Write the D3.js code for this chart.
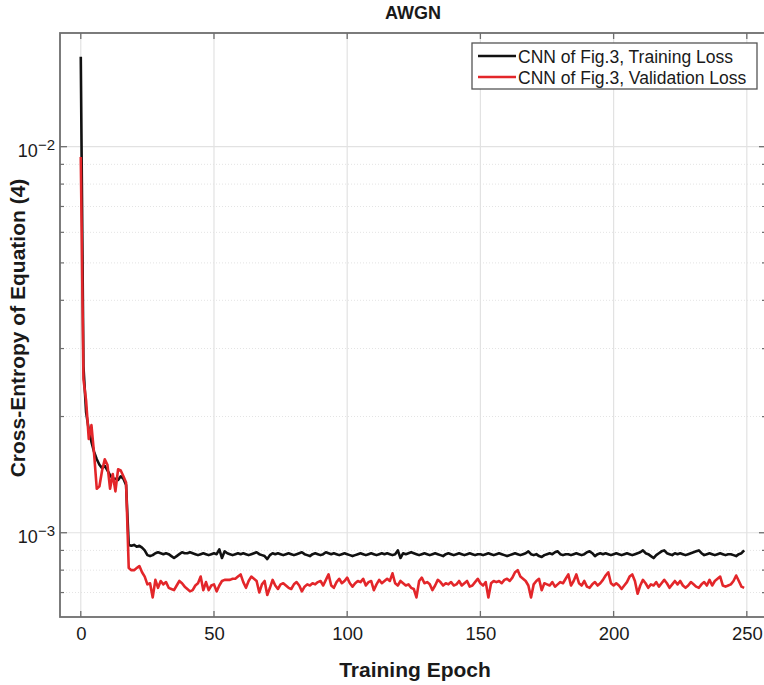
<!DOCTYPE html>
<html lang="en">
<head>
<meta charset="UTF-8">
<title>AWGN</title>
<script src="https://d3js.org/d3.v7.min.js"></script>
<style>
  body { margin: 0; background: #fff; }
  svg text { font-family: "Liberation Sans", Arial, Helvetica, sans-serif; fill: #1a1a1a; }
</style>
</head>
<body>
<div id="chart"></div>
<script>
// Loss per training epoch (index = epoch)
const trainLoss = [
  1.71e-2, 2.7e-3, 2.05e-3, 1.85e-3, 1.72e-3, 1.62e-3, 1.55e-3, 1.5e-3, 1.47e-3, 1.49e-3,
  1.45e-3, 1.41e-3, 1.38e-3, 1.38e-3, 1.37e-3, 1.4e-3, 1.38e-3, 1.33e-3,
  9.3e-4, 9.25e-4, 9.3e-4, 9.2e-4, 9.25e-4, 9.15e-4, 9.0e-4,
  8.75e-4, 8.7e-4, 8.75e-4, 8.85e-4, 8.9e-4, 8.85e-4, 8.8e-4, 8.85e-4, 8.8e-4, 8.7e-4, 8.6e-4, 8.7e-4, 8.8e-4, 8.9e-4, 8.85e-4, 8.85e-4, 8.9e-4, 8.85e-4, 8.8e-4, 8.75e-4, 8.8e-4, 8.85e-4, 8.8e-4, 8.75e-4, 8.8e-4,
  8.85e-4, 8.8e-4, 9.05e-4, 8.6e-4, 8.95e-4, 8.85e-4, 8.8e-4, 8.75e-4, 8.8e-4, 8.85e-4, 8.8e-4, 8.85e-4, 8.8e-4, 8.75e-4, 8.8e-4, 8.85e-4, 8.9e-4, 8.8e-4, 8.75e-4, 8.7e-4, 8.55e-4, 8.75e-4, 8.85e-4, 8.8e-4, 8.85e-4,
  8.8e-4, 8.75e-4, 8.8e-4, 8.85e-4, 8.8e-4, 8.75e-4, 8.8e-4, 8.85e-4, 8.9e-4, 8.8e-4, 8.75e-4, 8.7e-4, 8.8e-4, 8.85e-4, 8.8e-4, 8.75e-4, 8.8e-4, 8.9e-4, 8.85e-4, 8.8e-4, 8.85e-4, 8.8e-4, 8.75e-4, 8.8e-4, 8.85e-4,
  8.8e-4, 8.75e-4, 8.7e-4, 8.75e-4, 8.8e-4, 8.85e-4, 8.8e-4, 8.75e-4, 8.8e-4, 8.85e-4, 8.8e-4, 8.75e-4, 8.8e-4, 8.85e-4, 8.8e-4, 8.85e-4, 8.8e-4, 8.75e-4, 8.8e-4, 9.0e-4, 8.6e-4, 8.85e-4, 8.8e-4, 8.85e-4, 8.9e-4,
  8.85e-4, 8.8e-4, 8.75e-4, 8.8e-4, 8.85e-4, 8.8e-4, 8.75e-4, 8.8e-4, 8.85e-4, 8.8e-4, 8.75e-4, 8.7e-4, 8.8e-4, 8.85e-4, 8.8e-4, 8.75e-4, 8.8e-4, 8.85e-4, 8.8e-4, 8.75e-4, 8.8e-4, 8.85e-4, 8.8e-4, 8.75e-4, 8.8e-4,
  8.8e-4, 8.75e-4, 8.8e-4, 8.85e-4, 8.8e-4, 8.75e-4, 8.8e-4, 8.85e-4, 8.8e-4, 8.75e-4, 8.7e-4, 8.75e-4, 8.8e-4, 8.85e-4, 8.8e-4, 8.75e-4, 8.8e-4, 8.85e-4, 8.95e-4, 8.8e-4, 8.75e-4, 8.8e-4, 8.7e-4, 8.65e-4, 8.75e-4,
  8.8e-4, 8.85e-4, 8.8e-4, 8.9e-4, 8.95e-4, 8.8e-4, 8.75e-4, 8.8e-4, 8.8e-4, 8.75e-4, 8.8e-4, 8.85e-4, 8.8e-4, 8.75e-4, 8.8e-4, 8.9e-4, 8.95e-4, 8.85e-4, 8.7e-4, 8.8e-4, 8.85e-4, 8.8e-4, 8.85e-4, 8.8e-4, 8.75e-4,
  8.8e-4, 8.85e-4, 8.8e-4, 8.75e-4, 8.8e-4, 8.85e-4, 8.8e-4, 8.75e-4, 8.8e-4, 8.85e-4, 8.9e-4, 9.0e-4, 8.85e-4, 8.8e-4, 8.7e-4, 8.6e-4, 8.75e-4, 8.85e-4, 8.95e-4, 9.0e-4, 8.85e-4, 8.8e-4, 8.75e-4, 8.85e-4, 8.8e-4,
  8.85e-4, 8.8e-4, 8.75e-4, 8.8e-4, 8.85e-4, 8.9e-4, 8.95e-4, 9.0e-4, 8.85e-4, 8.75e-4, 8.8e-4, 8.85e-4, 8.8e-4, 8.75e-4, 8.8e-4, 8.85e-4, 8.8e-4, 8.75e-4, 8.8e-4, 8.8e-4, 8.75e-4, 8.7e-4, 8.8e-4, 8.85e-4, 9.0e-4
];
const valLoss = [
  9.4e-3, 2.5e-3, 2.2e-3, 1.75e-3, 1.9e-3, 1.6e-3, 1.3e-3, 1.32e-3, 1.45e-3, 1.55e-3,
  1.5e-3, 1.3e-3, 1.42e-3, 1.28e-3, 1.46e-3, 1.45e-3, 1.4e-3, 1.35e-3,
  8.1e-4, 8.0e-4, 8.0e-4, 8.1e-4, 8.2e-4, 7.9e-4, 7.7e-4,
  7.35e-4, 7.4e-4, 6.8e-4, 7.55e-4, 7.2e-4, 7.5e-4, 7.35e-4, 7.45e-4, 7.2e-4, 7.15e-4, 7.1e-4, 7.3e-4, 7.5e-4, 7.4e-4, 7.25e-4, 7.15e-4, 7.05e-4, 7.1e-4, 7.3e-4, 7.4e-4, 7.7e-4, 7.1e-4, 7.45e-4, 7.1e-4, 7.3e-4,
  7.35e-4, 7.05e-4, 7.3e-4, 7.5e-4, 7.55e-4, 7.55e-4, 7.55e-4, 7.6e-4, 7.6e-4, 7.7e-4, 7.8e-4, 7.45e-4, 7.2e-4, 7.5e-4, 7.7e-4, 7.6e-4, 7.5e-4, 7.0e-4, 7.35e-4, 7.5e-4, 6.9e-4, 7.2e-4, 7.55e-4, 7.3e-4, 7.15e-4,
  7.35e-4, 7.4e-4, 7.3e-4, 7.2e-4, 7.15e-4, 7.35e-4, 7.45e-4, 7.3e-4, 7.05e-4, 7.25e-4, 7.35e-4, 7.3e-4, 7.4e-4, 7.35e-4, 7.45e-4, 7.5e-4, 7.3e-4, 7.55e-4, 7.8e-4, 7.3e-4, 7.2e-4, 7.45e-4, 7.6e-4, 7.4e-4, 7.5e-4,
  7.65e-4, 7.4e-4, 7.25e-4, 7.4e-4, 7.5e-4, 7.45e-4, 7.6e-4, 7.3e-4, 7.45e-4, 7.5e-4, 7.1e-4, 7.35e-4, 7.55e-4, 7.4e-4, 7.5e-4, 7.6e-4, 7.5e-4, 7.85e-4, 7.4e-4, 7.3e-4, 7.5e-4, 7.4e-4, 7.3e-4, 7.35e-4, 7.2e-4,
  7.15e-4, 6.8e-4, 7.5e-4, 7.65e-4, 7.4e-4, 7.45e-4, 7.35e-4, 7.1e-4, 7.3e-4, 7.55e-4, 7.45e-4, 7.3e-4, 7.4e-4, 7.35e-4, 7.45e-4, 7.3e-4, 7.35e-4, 7.5e-4, 7.3e-4, 7.4e-4, 7.5e-4, 7.25e-4, 7.3e-4, 7.45e-4, 7.6e-4,
  7.4e-4, 7.3e-4, 7.45e-4, 6.8e-4, 7.4e-4, 7.5e-4, 7.45e-4, 7.5e-4, 7.4e-4, 7.55e-4, 7.6e-4, 7.5e-4, 7.65e-4, 7.9e-4, 8.0e-4, 7.7e-4, 7.6e-4, 7.5e-4, 7.3e-4, 6.8e-4, 7.35e-4, 7.5e-4, 7.6e-4, 7.1e-4, 7.4e-4,
  7.35e-4, 7.3e-4, 7.45e-4, 7.25e-4, 7.35e-4, 7.45e-4, 7.4e-4, 7.6e-4, 7.8e-4, 7.3e-4, 7.5e-4, 7.8e-4, 7.4e-4, 7.3e-4, 7.5e-4, 7.25e-4, 7.2e-4, 7.35e-4, 7.45e-4, 7.3e-4, 7.4e-4, 7.55e-4, 7.75e-4, 7.9e-4, 7.4e-4,
  7.3e-4, 7.4e-4, 7.3e-4, 7.15e-4, 7.3e-4, 7.45e-4, 7.7e-4, 7.8e-4, 7.5e-4, 6.95e-4, 7.3e-4, 7.55e-4, 7.4e-4, 7.2e-4, 7.35e-4, 7.3e-4, 7.45e-4, 7.25e-4, 7.4e-4, 7.55e-4, 7.4e-4, 7.2e-4, 7.35e-4, 7.5e-4, 7.35e-4,
  7.5e-4, 7.3e-4, 7.2e-4, 7.3e-4, 7.45e-4, 7.35e-4, 7.25e-4, 7.2e-4, 7.35e-4, 7.45e-4, 7.3e-4, 7.55e-4, 7.3e-4, 7.5e-4, 7.6e-4, 7.7e-4, 7.3e-4, 7.25e-4, 7.3e-4, 7.35e-4, 7.5e-4, 7.75e-4, 7.5e-4, 7.25e-4, 7.2e-4
];
const seriesNames = ["CNN of Fig.3, Training Loss", "CNN of Fig.3, Validation Loss"];
const seriesColors = ["#111111", "#e3262a"];
const xTicks = [0, 50, 100, 150, 200, 250];
const yMajorTicks = [1e-3, 1e-2];
const yMinorTicks = [7e-4, 8e-4, 9e-4, 2e-3, 3e-3, 4e-3, 5e-3, 6e-3, 7e-3, 8e-3, 9e-3];

const W = 764, H = 685;
const plot = { left: 60, right: 766, top: 33, bottom: 617 };

const svg = d3.select("#chart").append("svg")
    .attr("width", W)
    .attr("height", H);

const x = d3.scaleLinear().domain([-7.8, 257.2]).range([plot.left, plot.right]);
const y = d3.scaleLog().domain([6.05e-4, 1.97e-2]).range([plot.bottom, plot.top]);

// grid: minor (dotted) then major
svg.append("g").selectAll("line")
    .data(yMinorTicks).join("line")
    .attr("x1", plot.left).attr("x2", plot.right)
    .attr("y1", d => y(d)).attr("y2", d => y(d))
    .attr("stroke", "#e4e4e4").attr("stroke-width", 1)
    .attr("stroke-dasharray", "1,2");

svg.append("g").selectAll("line")
    .data(yMajorTicks).join("line")
    .attr("x1", plot.left).attr("x2", plot.right)
    .attr("y1", d => y(d)).attr("y2", d => y(d))
    .attr("stroke", "#e2e2e2").attr("stroke-width", 1.2);

svg.append("g").selectAll("line")
    .data(xTicks).join("line")
    .attr("x1", d => x(d)).attr("x2", d => x(d))
    .attr("y1", plot.top).attr("y2", plot.bottom)
    .attr("stroke", "#e2e2e2").attr("stroke-width", 1.2);

// lines
const line = d3.line()
    .x((d, i) => x(i))
    .y(d => y(d));

[trainLoss, valLoss].forEach((s, k) => {
  svg.append("path")
      .datum(s)
      .attr("fill", "none")
      .attr("stroke", seriesColors[k])
      .attr("stroke-width", 2.6)
      .attr("stroke-linejoin", "round")
      .attr("d", line);
});

// axes box
const axisColor = "#6e6e6e";
svg.append("rect")
    .attr("x", plot.left).attr("y", plot.top)
    .attr("width", plot.right - plot.left).attr("height", plot.bottom - plot.top)
    .attr("fill", "none").attr("stroke", axisColor).attr("stroke-width", 1.8);

// x ticks (inward, bottom and top)
const xAxis = svg.append("g").attr("transform", `translate(0,${plot.bottom})`)
    .call(d3.axisBottom(x).tickValues(xTicks).tickSize(0).tickPadding(10).tickFormat(d3.format("d")));
xAxis.select(".domain").remove();
xAxis.selectAll("text").style("font-size", "18.5px").attr("fill", "#1a1a1a");

xTicks.forEach(t => {
  svg.append("line").attr("x1", x(t)).attr("x2", x(t))
      .attr("y1", plot.bottom).attr("y2", plot.bottom - 6)
      .attr("stroke", axisColor).attr("stroke-width", 1.3);
  svg.append("line").attr("x1", x(t)).attr("x2", x(t))
      .attr("y1", plot.top).attr("y2", plot.top + 6)
      .attr("stroke", axisColor).attr("stroke-width", 1.3);
});

// y ticks (inward, left and right)
yMajorTicks.forEach(t => {
  svg.append("line").attr("x1", plot.left).attr("x2", plot.left + 7)
      .attr("y1", y(t)).attr("y2", y(t)).attr("stroke", axisColor).attr("stroke-width", 1.3);
  svg.append("line").attr("x1", plot.right).attr("x2", plot.right - 7)
      .attr("y1", y(t)).attr("y2", y(t)).attr("stroke", axisColor).attr("stroke-width", 1.3);
});
yMinorTicks.forEach(t => {
  svg.append("line").attr("x1", plot.left).attr("x2", plot.left + 4)
      .attr("y1", y(t)).attr("y2", y(t)).attr("stroke", axisColor).attr("stroke-width", 1.2);
  svg.append("line").attr("x1", plot.right).attr("x2", plot.right - 4)
      .attr("y1", y(t)).attr("y2", y(t)).attr("stroke", axisColor).attr("stroke-width", 1.2);
});

// y tick labels 10^n
yMajorTicks.forEach(t => {
  const lbl = svg.append("text")
      .attr("x", 55).attr("y", y(t) + 10)
      .attr("text-anchor", "end")
      .style("font-size", "18px");
  lbl.append("tspan").text("10");
  lbl.append("tspan").attr("dy", -7).style("font-size", "15px")
      .text("\u2212" + Math.round(-Math.log10(t)));
});

// titles
svg.append("text")
    .attr("x", (plot.left + plot.right) / 2).attr("y", 19)
    .attr("text-anchor", "middle")
    .style("font-size", "18px").style("font-weight", "bold")
    .text("AWGN");

svg.append("text")
    .attr("x", 415).attr("y", 677)
    .attr("text-anchor", "middle")
    .style("font-size", "21px").style("font-weight", "bold")
    .text("Training Epoch");

svg.append("text")
    .attr("transform", `translate(25,328) rotate(-90)`)
    .attr("text-anchor", "middle")
    .style("font-size", "21px").style("font-weight", "bold")
    .text("Cross-Entropy of Equation (4)");

// legend
const legend = svg.append("g");
legend.append("rect")
    .attr("x", 472).attr("y", 43)
    .attr("width", 285).attr("height", 46)
    .attr("fill", "#fff").attr("stroke", "#555").attr("stroke-width", 1.3);

seriesNames.forEach((name, k) => {
  const cy = 56 + k * 21;
  legend.append("line")
      .attr("x1", 478).attr("x2", 516)
      .attr("y1", cy).attr("y2", cy)
      .attr("stroke", seriesColors[k]).attr("stroke-width", 2.6);
  legend.append("text")
      .attr("x", 518).attr("y", cy + 7)
      .style("font-size", "17.5px")
      .text(name);
});
</script>
</body>
</html>
